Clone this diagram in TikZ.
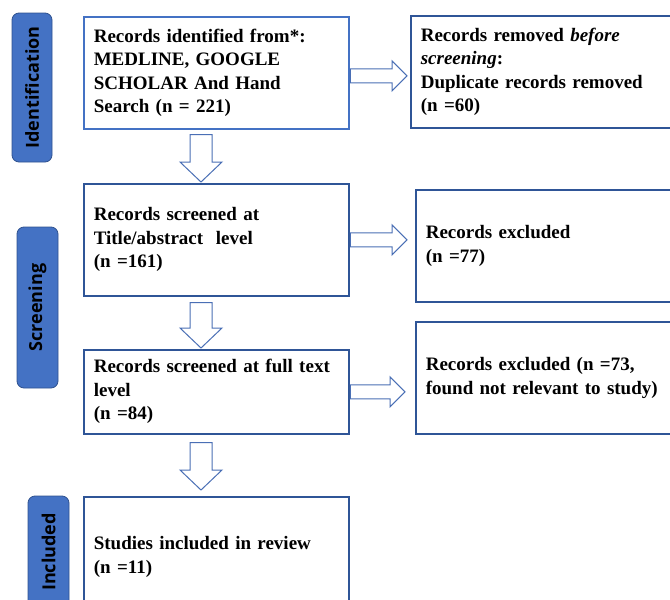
\documentclass[tikz,border=0pt]{standalone}
\usepackage{fontspec}
\setmainfont{Liberation Serif}
\newfontfamily\pillfont{Open Sans}
\usetikzlibrary{calc}
\definecolor{pillblue}{HTML}{4472C4}
\definecolor{pilledge}{HTML}{2F528F}
\definecolor{boxlight}{HTML}{4472C4}
\definecolor{boxdark}{HTML}{2F5597}
\definecolor{arrowblue}{HTML}{4A6FB5}
\newcommand\blkdown[2]{\draw[barrow] let \p1=#1, \p2=#2 in
  (\x1-11pt,\y1) -- (\x1+11pt,\y1) -- (\x1+11pt,\y2+20pt) -- (\x1+21pt,\y2+20pt) --
  (\x1,\y2) -- (\x1-21pt,\y2+20pt) -- (\x1-11pt,\y2+20pt) -- cycle;}
\newcommand\blkright[2]{\draw[barrow] let \p1=#1, \p2=#2 in
  (\x1,\y1+7pt) -- (\x2-15pt,\y1+7pt) -- (\x2-15pt,\y1+15pt) -- (\x2,\y1) --
  (\x2-15pt,\y1-15pt) -- (\x2-15pt,\y1-7pt) -- (\x1,\y1-7pt) -- cycle;}
\begin{document}
\begin{tikzpicture}[x=1pt,y=-1pt,
  box/.style={draw=boxdark, line width=1.6pt, fill=white, anchor=north west,
    inner xsep=10pt, inner ysep=0pt, align=left,
    font=\fontsize{19}{23.5}\selectfont\bfseries},
  pill/.style={draw=pilledge, line width=0.8pt, fill=pillblue, rounded corners=7pt,
    rotate=90, inner sep=0pt, font=\pillfont\bfseries\fontsize{18}{20}\selectfont, text=black},
  barrow/.style={draw=arrowblue, line width=1pt, fill=white, line join=miter}]
\useasboundingbox (0,0) rectangle (670,600);
\clip (0,0) rectangle (670,600);
% stage pills
\node[pill, minimum width=149pt, minimum height=40pt] (p1) at (32,87.5) {Identification};
\node[pill, minimum width=161pt, minimum height=41pt] (p2) at (37.5,307.5) {Screening};
\node[pill, minimum width=112pt, minimum height=41pt] (p3) at (48.5,552) {Included};
% left boxes
\node[box, draw=boxlight, text width=245pt, minimum height=112pt] (b1) at (83,16)
  {Records identified from*:\\ MEDLINE, GOOGLE\\ SCHOLAR And Hand\\ Search (n = 221)};
\node[box, text width=245pt, minimum height=112pt] (b2) at (83,183)
  {Records screened at\\ Title/abstract\ \ level\\ (n =161)};
\node[box, text width=245pt, minimum height=84pt] (b3) at (83,349)
  {Records screened at full text\\ level\\ (n =84)};
\node[box, text width=245pt, minimum height=120pt] (b4) at (83,496)
  {Studies included in review\\ (n =11)};
% right boxes
\node[box, text width=260pt, minimum height=112pt] (r1) at (410,15)
  {Records removed \textit{before}\\ \textit{screening}:\\ Duplicate records removed\\ (n =60)};
\node[box, text width=255pt, minimum height=112pt] (r2) at (415,189)
  {Records excluded\\ (n =77)};
\node[box, text width=255pt, minimum height=112pt] (r3) at (415,321)
  {Records excluded (n =73,\\ found not relevant to study)};
% down arrows
\blkdown{($(b1.south west)+(118,5)$)}{($(b2.north west)+(118,-1)$)}
\blkdown{($(b2.south west)+(118,6)$)}{($(b3.north west)+(118,-1)$)}
\blkdown{($(b3.south west)+(118,8)$)}{($(b4.north west)+(118,-6)$)}
% right arrows
\blkright{($(b1.east)+(0.8,3)$)}{($(r1.west)+(-3,4)$)}
\blkright{($(b2.east)+(0.8,0)$)}{($(r2.west)+(-8,-6)$)}
\blkright{($(b3.east)+(0.8,0)$)}{($(r3.west)+(-10,14)$)}
\end{tikzpicture}
\end{document}
